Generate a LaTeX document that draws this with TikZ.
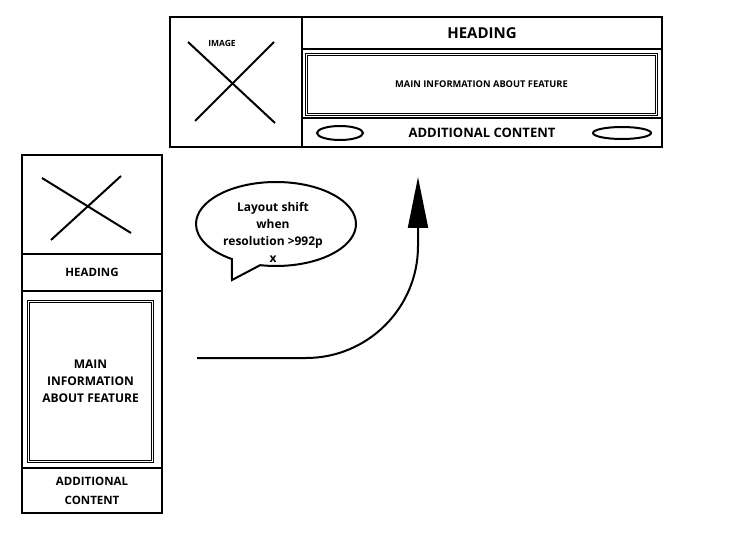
\documentclass[tikz,border=0pt]{standalone}
\usepackage{fontspec}
\setmainfont{Open Sans}
\usetikzlibrary{shapes, shapes.callouts, arrows.meta, positioning, calc}
\newcommand{\fs}[2]{\fontsize{#1}{#2}\selectfont}
\def \cardline {2pt}

\tikzset{
  cell/.style = {draw, line width = \cardline, inner sep = 0, outer sep = 0, align = center, font = \bfseries},
  body/.style = {draw, double, line width = 1.2pt, double distance = 1.5pt, inner sep = 0, align = center, font = \bfseries},
  pill/.style = {draw, ellipse, line width = \cardline, inner sep = 0},
  cross/.style = {line width = \cardline}
}

\begin{document}
\begin{tikzpicture}[x = 1pt, y = -1pt]
\useasboundingbox (0, 0) rectangle (731, 540);

% wide layout
\node (wimg) [cell, minimum width = 132, minimum height = 130] at (236, 82) {};
\node (whead) [cell, anchor = north west, minimum width = 360, minimum height = 32, font = {\bfseries\fs{15}{18}}] at (wimg.north east) {HEADING};
\node (wmain) [cell, below = 0 of whead, minimum width = 360, minimum height = 69] {};
\node (wadd) [cell, below = 0 of wmain, minimum width = 360, minimum height = 29, font = {\bfseries\fs{13}{16}}] {ADDITIONAL CONTENT};
\node (wbody) [body, minimum width = 350, minimum height = 60, font = {\bfseries\fs{9.3}{11}}] at (481.5, 84.5) {MAIN INFORMATION ABOUT FEATURE};
\node (wimgtxt) [font = {\bfseries\fs{8.5}{10}}] at (222, 43) {IMAGE};
\draw[cross] (188, 42) -- (275, 123);
\draw[cross] (195, 121) -- (274, 42);
\node (wpillL) [pill, minimum width = 46, minimum height = 14] at (340, 133) {};
\node (wpillR) [pill, minimum width = 58, minimum height = 12] at (622, 133) {};

% narrow layout
\node (nimg) [cell, minimum width = 140, minimum height = 99] at (92, 204.5) {};
\node (nhead) [cell, below = 0 of nimg, minimum width = 140, minimum height = 37, font = {\bfseries\fs{11.5}{13}}] {HEADING};
\node (nmain) [cell, below = 0 of nhead, minimum width = 140, minimum height = 177] {};
\node (nadd) [cell, below = 0 of nmain, minimum width = 140, minimum height = 45, font = {\bfseries\fs{11.5}{19}}] {ADDITIONAL\\CONTENT};
\node (nbody) [body, minimum width = 124, minimum height = 160, font = {\bfseries\fs{12}{17}}] at (90.5, 381.5) {MAIN\\INFORMATION\\ABOUT FEATURE};
\draw[cross] (42, 178) -- (131, 233);
\draw[cross] (51, 240) -- (121, 176);

% speech bubble
\node (bubble) [ellipse callout, draw, line width = \cardline, minimum width = 160, minimum height = 84, callout absolute pointer = {(232, 280)}, callout pointer arc = 22] at (276, 224) {};
\node (bubbletxt) [align = center, font = {\bfseries\fs{12}{17}}] at (273, 232) {Layout shift\\when\\resolution >992p\\x};

% shift arrow
\coordinate (shiftfrom) at (197, 358);
\coordinate (shiftto) at (418, 177);
\draw[line width = \cardline, rounded corners = 112, -{Triangle[length = 51pt, width = 20pt]}] (shiftfrom) -| (shiftto);

\end{tikzpicture}
\end{document}
